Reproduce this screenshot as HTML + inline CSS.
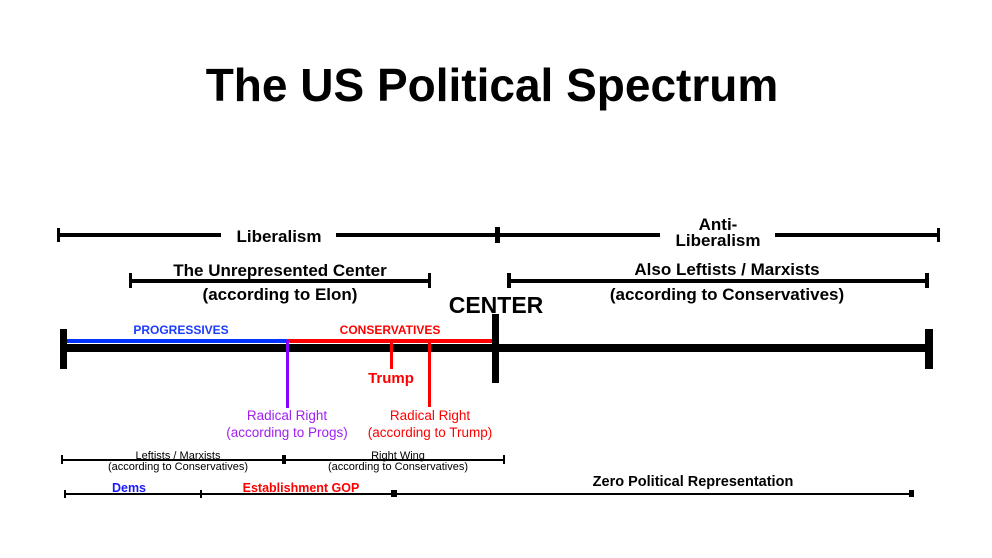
<!DOCTYPE html>
<html><head><meta charset="utf-8"><style>
html,body{margin:0;padding:0;background:#fff;}
svg{display:block;}
text{font-family:"Liberation Sans",Arial,sans-serif;font-weight:bold;text-anchor:middle;}
</style></head><body>
<svg width="992" height="558" viewBox="0 0 992 558" xmlns="http://www.w3.org/2000/svg">
<rect width="992" height="558" fill="#fff"/>
<text x="492" y="101" font-size="46" fill="#000">The US Political Spectrum</text>

<!-- Liberalism -->
<rect x="58" y="233" width="163" height="4" fill="#000"/>
<rect x="336" y="233" width="324" height="4" fill="#000"/>
<rect x="775" y="233" width="164" height="4" fill="#000"/>
<rect x="57" y="228" width="3" height="14" fill="#000"/>
<rect x="495" y="227" width="5" height="16" fill="#000"/>
<rect x="937" y="228" width="3" height="14" fill="#000"/>
<text x="279" y="242" font-size="17" fill="#000">Liberalism</text>
<text x="718" y="230" font-size="17" fill="#000">Anti-</text>
<text x="718" y="246" font-size="17" fill="#000">Liberalism</text>

<!-- Unrepresented Center -->
<rect x="130" y="279" width="300" height="4" fill="#000"/>
<rect x="129" y="273" width="3" height="15" fill="#000"/>
<rect x="428" y="273" width="3" height="15" fill="#000"/>
<text x="280" y="276" font-size="17" fill="#000">The Unrepresented Center</text>
<text x="280" y="300" font-size="17" fill="#000">(according to Elon)</text>

<!-- Also leftists -->
<rect x="508" y="279" width="419" height="4" fill="#000"/>
<rect x="507" y="273" width="4" height="15" fill="#000"/>
<rect x="925" y="273" width="4" height="15" fill="#000"/>
<text x="727" y="275" font-size="17" fill="#000">Also Leftists / Marxists</text>
<text x="727" y="300" font-size="17" fill="#000">(according to Conservatives)</text>

<text x="496" y="313" font-size="23" fill="#000">CENTER</text>

<!-- main line -->
<rect x="62" y="344" width="868" height="8" fill="#000"/>
<rect x="60" y="329" width="7" height="40" fill="#000"/>
<rect x="492" y="314" width="7" height="69" fill="#000"/>
<rect x="925" y="329" width="8" height="40" fill="#000"/>
<rect x="67" y="339" width="220" height="4" fill="#0033ff"/>
<rect x="287" y="339" width="205" height="4" fill="#ff0000"/>
<text x="181" y="334" font-size="12" fill="#1a3cff">PROGRESSIVES</text>
<text x="390" y="334" font-size="12" fill="#ff0000">CONSERVATIVES</text>
<rect x="286" y="340" width="3" height="68" fill="#8800ff"/>
<rect x="390" y="341" width="3" height="28" fill="#ff0000"/>
<rect x="428" y="341" width="3" height="66" fill="#ff0000"/>
<text x="391" y="383" font-size="15" fill="#ff0000">Trump</text>
<text x="287" y="420" font-size="13.5" style="font-weight:normal" fill="#a020f0">Radical Right</text>
<text x="287" y="437" font-size="13.5" style="font-weight:normal" fill="#a020f0">(according to Progs)</text>
<text x="430" y="420" font-size="13.5" style="font-weight:normal" fill="#ff0000">Radical Right</text>
<text x="430" y="437" font-size="13.5" style="font-weight:normal" fill="#ff0000">(according to Trump)</text>

<!-- small lines -->
<rect x="61" y="459" width="444" height="2" fill="#000"/>
<rect x="61" y="455" width="2" height="9" fill="#000"/>
<rect x="282" y="455" width="4" height="9" fill="#000"/>
<rect x="503" y="455" width="2" height="9" fill="#000"/>
<text x="178" y="459" font-size="11" style="font-weight:normal" fill="#000">Leftists / Marxists</text>
<text x="178" y="470" font-size="11" style="font-weight:normal" fill="#000">(according to Conservatives)</text>
<text x="398" y="459" font-size="11" style="font-weight:normal" fill="#000">Right Wing</text>
<text x="398" y="470" font-size="11" style="font-weight:normal" fill="#000">(according to Conservatives)</text>

<!-- bottom line -->
<rect x="65" y="493" width="848" height="2" fill="#000"/>
<rect x="64" y="490" width="2" height="8" fill="#000"/>
<rect x="200" y="490" width="2" height="8" fill="#000"/>
<rect x="391" y="490" width="6" height="7" fill="#000"/>
<rect x="909" y="490" width="5" height="7" fill="#000"/>
<text x="129" y="492" font-size="12.5" fill="#1a1aff">Dems</text>
<text x="301" y="492" font-size="12.5" fill="#ff0000">Establishment GOP</text>
<text x="693" y="486" font-size="14.5" fill="#000">Zero Political Representation</text>
</svg>
</body></html>
